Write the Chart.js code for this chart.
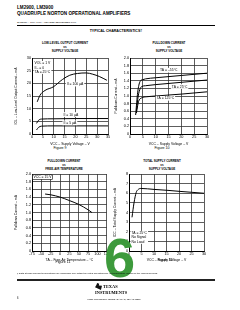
<!DOCTYPE html>
<html>
<head>
<meta charset="utf-8">
<script src="https://cdn.jsdelivr.net/npm/chart.js@4"></script>
<style>
body{margin:0;background:#fff;width:240px;height:310px;overflow:hidden;position:relative;font-family:"Liberation Sans",Arial,sans-serif;color:#000}
.t{position:absolute;white-space:nowrap;line-height:1}
.c{transform:translateX(-50%);text-align:center}
canvas{position:absolute}
</style>
</head>
<body>
<div class="t" style="left:17px;top:6px;font-size:4.6px;font-weight:bold">LM2900, LM3900</div>
<div class="t" style="left:17px;top:12px;font-size:4.6px;font-weight:bold">QUADRUPLE NORTON OPERATIONAL AMPLIFIERS</div>
<div class="t" style="left:17px;top:22px;font-size:2.4px">SLOS059 – JULY 1979 – REVISED SEPTEMBER 1990</div>
<div style="position:absolute;left:17px;top:25px;width:198px;height:1px;background:#000"></div>
<div class="t c" style="left:116px;top:30px;font-size:3.6px;font-weight:bold">TYPICAL CHARACTERISTICS†</div>

<div class="t c" style="left:65px;top:41px;font-size:3px;font-weight:bold;line-height:4.2px">LOW-LEVEL OUTPUT CURRENT<br>vs<br>SUPPLY VOLTAGE</div>
<div class="t c" style="left:169px;top:41px;font-size:3px;font-weight:bold;line-height:4.2px">PULLDOWN CURRENT<br>vs<br>SUPPLY VOLTAGE</div>
<div class="t c" style="left:64px;top:160px;font-size:3px;font-weight:bold;line-height:3.8px">PULLDOWN CURRENT<br>vs<br>FREE-AIR TEMPERATURE</div>
<div class="t c" style="left:162px;top:160px;font-size:3px;font-weight:bold;line-height:3.8px">TOTAL SUPPLY CURRENT<br>vs<br>SUPPLY VOLTAGE</div>

<canvas id="fig9" width="98" height="92" style="left:14px;top:54px"></canvas>
<canvas id="fig10" width="97" height="92" style="left:114px;top:54px"></canvas>
<canvas id="fig11" width="97" height="92" style="left:14px;top:170px"></canvas>
<canvas id="fig12" width="95" height="92" style="left:113px;top:170px"></canvas>

<div class="t c" style="left:60px;top:147px;font-size:3.6px">Figure 9</div>
<div class="t c" style="left:162px;top:147px;font-size:3.6px">Figure 10</div>
<div class="t c" style="left:63px;top:261px;font-size:3.6px">Figure 11</div>
<div class="t c" style="left:165px;top:259px;font-size:3.6px">Figure 12</div>

<div class="t" style="left:104px;top:230px;font-size:56px;font-weight:bold;color:#3d9a3c">6</div>

<div class="t" style="left:17px;top:273px;font-size:2.4px">† Data at high and low temperatures are applicable only within the rated operating free-air temperature ranges of the various devices.</div>
<div style="position:absolute;left:17px;top:279px;width:198px;height:1.5px;background:#222"></div>
<div style="position:absolute;left:95px;top:283px;width:7px;height:7px;background:#111;clip-path:polygon(30% 0,60% 10%,55% 35%,100% 40%,85% 100%,40% 80%,0 60%,20% 30%)"></div>
<div class="t" style="left:103px;top:285px;font-size:4.4px;font-family:'Liberation Serif',serif;font-weight:bold">TEXAS</div>
<div class="t" style="left:95px;top:291px;font-size:4.4px;font-family:'Liberation Serif',serif;font-weight:bold">INSTRUMENTS</div>
<div class="t c" style="left:114px;top:298px;font-size:2.2px">POST OFFICE BOX 655303 • DALLAS, TEXAS 75265</div>
<div class="t" style="left:17px;top:298px;font-size:2.6px">6</div>

<script>
// Figure 9 - low-level output current vs supply voltage
const fig9_vcc_100 = [2.4, 3.7, 6, 9.8, 14, 17.4, 21, 25, 28, 31, 34.5];
const fig9_iol_100 = [12.7, 15.3, 17.2, 18.6, 21.5, 23.2, 23.9, 24.1, 23.6, 22.7, 21.2];
const fig9_vcc_10 = [2.1, 3, 4.4, 10, 20, 35];
const fig9_iol_10 = [4.2, 5.4, 5.9, 6.0, 6.1, 6.1];
const fig9_vcc_5 = [2.1, 3, 4.4, 10, 20, 35];
const fig9_iol_5 = [1.6, 2.6, 3.1, 3.2, 3.2, 3.2];

// Figure 10 - pulldown current vs supply voltage
const fig10_vcc_m55 = [2.2, 3, 3.9, 5, 6, 10, 20, 30];
const fig10_i_m55 = [0.5, 1.1, 1.38, 1.43, 1.45, 1.48, 1.54, 1.6];
const fig10_vcc_25 = [2.5, 3.2, 4, 4.6, 6, 10, 20, 30];
const fig10_i_25 = [0.6, 1.0, 1.2, 1.25, 1.27, 1.3, 1.36, 1.42];
const fig10_vcc_125 = [2.5, 3, 3.3, 4.5, 6.5, 10, 20, 30];
const fig10_i_125 = [0.55, 0.75, 0.85, 0.95, 0.98, 1.0, 1.05, 1.11];

// Figure 11 - pulldown current vs free-air temperature
const fig11_ta = [-40, -25, 0, 25, 50, 75, 85];
const fig11_i = [1.48, 1.46, 1.40, 1.31, 1.21, 1.07, 1.0];

// Figure 12 - total supply current vs supply voltage
const fig12_vcc = [1.2, 2, 2.9, 3.5, 4.7, 10, 15.6, 20, 25, 30];
const fig12_icc = [3.5, 5.0, 6.1, 6.35, 6.5, 6.4, 6.3, 6.2, 6.1, 6.0];

const FONT = '"Liberation Sans", Arial, sans-serif';

const notesPlugin = {
	id: 'notes',
	afterDatasetsDraw(chart, args, opts) {
		const ctx = chart.ctx;
		const xs = chart.scales.x, ys = chart.scales.y;
		(opts.items || []).forEach(n => {
			const px = xs.getPixelForValue(n.x), py = ys.getPixelForValue(n.y);
			const lh = 4.1;
			ctx.save();
			ctx.font = '3.4px ' + FONT;
			const w = Math.max(...n.lines.map(l => ctx.measureText(l).width));
			ctx.fillStyle = '#fff';
			ctx.fillRect(px - 1, py - 0.8, w + 2, lh * n.lines.length + 0.6);
			if (n.border) {
				ctx.strokeStyle = '#000';
				ctx.lineWidth = 0.6;
				ctx.strokeRect(px - 1, py - 0.8, w + 2, lh * n.lines.length + 0.6);
			}
			ctx.fillStyle = '#000';
			ctx.textBaseline = 'top';
			n.lines.forEach((l, i) => ctx.fillText(l, px, py + i * lh));
			ctx.restore();
		});
	}
};

function pts(xs, ys) {
	return xs.map((x, i) => ({x: x, y: ys[i]}));
}

function line(xs, ys) {
	return {
		data: pts(xs, ys),
		borderColor: '#000',
		borderWidth: 1,
		pointRadius: 0,
		fill: false,
		cubicInterpolationMode: 'monotone'
	};
}

function axis(min, max, step, title, size) {
	return {
		type: 'linear',
		min: min,
		max: max,
		ticks: {stepSize: step, color: '#000', font: {size: 3.8, family: FONT}, padding: 1, autoSkip: false, maxRotation: 0},
		grid: {color: '#333', lineWidth: 0.8, drawTicks: false},
		border: {color: '#000', width: 1},
		title: {display: true, text: title, color: '#000', font: {size: 3.4, family: FONT}, padding: 0},
		afterFit: s => {
			if (s.isHorizontal()) s.height = size; else s.width = size;
		}
	};
}

function plot(id, datasets, x, y, notes) {
	new Chart(document.getElementById(id), {
		type: 'line',
		data: {datasets: datasets},
		options: {
			responsive: false,
			animation: false,
			layout: {padding: {top: 4, right: 4, left: 0, bottom: 0}},
			plugins: {legend: {display: false}, tooltip: {enabled: false}, notes: {items: notes}},
			scales: {x: x, y: y}
		},
		plugins: [notesPlugin]
	});
}

plot('fig9',
	[line(fig9_vcc_100, fig9_iol_100), line(fig9_vcc_10, fig9_iol_10), line(fig9_vcc_5, fig9_iol_5)],
	axis(0, 35, 5, 'VCC – Supply Voltage – V', 12),
	axis(0, 30, 5, 'IOL – Low-Level Output Current – mA', 18),
	[
		{x: 1.2, y: 28.5, lines: ['VOL = 1 V', 'II– = 0', 'TA = 25°C']},
		{x: 16, y: 20.3, lines: ['II = 100 µA']},
		{x: 14.5, y: 8.3, lines: ['II = 10 µA']},
		{x: 14.5, y: 5, lines: ['II = 5 µA']}
	]);

plot('fig10',
	[line(fig10_vcc_m55, fig10_i_m55), line(fig10_vcc_25, fig10_i_25), line(fig10_vcc_125, fig10_i_125)],
	axis(0, 30, 5, 'VCC – Supply Voltage – V', 12),
	axis(0, 2, 0.2, 'Pulldown Current – mA', 16),
	[
		{x: 11.7, y: 1.72, lines: ['TA = –55°C']},
		{x: 16.3, y: 1.29, lines: ['TA = 25°C']},
		{x: 10.4, y: 0.98, lines: ['TA = 125°C']}
	]);

plot('fig11',
	[line(fig11_ta, fig11_i)],
	axis(-75, 125, 25, 'TA – Free-Air Temperature – °C', 11),
	axis(0, 2, 0.2, 'Pulldown Current – mA', 18),
	[
		{x: -71, y: 1.96, lines: ['VCC = 15 V'], border: true}
	]);

plot('fig12',
	[line(fig12_vcc, fig12_icc)],
	axis(0, 30, 5, 'VCC – Supply Voltage – V', 11),
	axis(0, 8, 1, 'ICC – Total Supply Current – mA', 16),
	[
		{x: 1, y: 2.0, lines: ['TA = 25°C', 'No Signal', 'No Load']}
	]);
</script>
</body>
</html>
